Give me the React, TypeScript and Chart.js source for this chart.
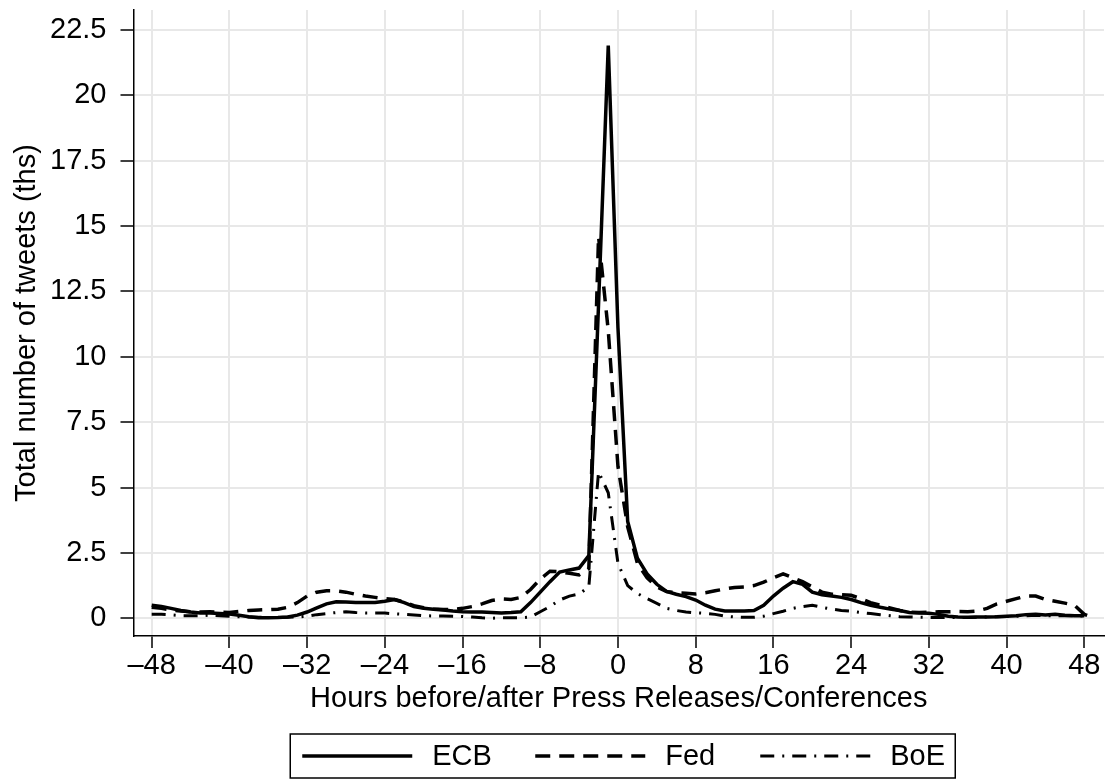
import React, { useEffect, useRef } from 'react';
import { Chart, registerables } from 'chart.js';

Chart.register(...registerables);

// Hours relative to the press release / conference
const HOURS = [
  -48, -47, -46, -45, -44, -43, -42, -41, -40, -39, -38, -37, -36, -35, -34, -33,
  -32, -31, -30, -29, -28, -27, -26, -25, -24, -23, -22, -21, -20, -19, -18, -17,
  -16, -15, -14, -13, -12, -11, -10, -9, -8, -7, -6, -5, -4, -3, -2, -1,
  0, 1, 2, 3, 4, 5, 6, 7, 8, 9, 10, 11, 12, 13, 14, 15,
  16, 17, 18, 19, 20, 21, 22, 23, 24, 25, 26, 27, 28, 29, 30, 31,
  32, 33, 34, 35, 36, 37, 38, 39, 40, 41, 42, 43, 44, 45, 46, 47,
  48, 49,
];

// Total number of tweets (thousands)
const ECB = [
  0.5, 0.45, 0.38, 0.3, 0.24, 0.2, 0.2, 0.18, 0.16, 0.12, 0.06, 0.02, 0.02, 0.03, 0.05, 0.12,
  0.24, 0.4, 0.55, 0.63, 0.62, 0.6, 0.6, 0.6, 0.65, 0.72, 0.6, 0.45, 0.38, 0.35, 0.32, 0.28,
  0.25, 0.24, 0.24, 0.22, 0.2, 0.22, 0.25, 0.6, 1.0, 1.4, 1.77, 1.85, 1.92, 2.4, 12.0, 21.9,
  11.1, 3.7, 2.3, 1.7, 1.3, 1.03, 0.92, 0.83, 0.7, 0.5, 0.35, 0.28, 0.28, 0.28, 0.3, 0.5,
  0.85, 1.15, 1.4, 1.3, 1.0, 0.9, 0.85, 0.8, 0.72, 0.6, 0.5, 0.42, 0.35, 0.3, 0.22, 0.2,
  0.19, 0.15, 0.08, 0.05, 0.04, 0.05, 0.05, 0.06, 0.08, 0.1, 0.14, 0.15, 0.13, 0.15, 0.12, 0.1,
  0.1, null,
];

const FED = [
  0.42, 0.38, 0.32, 0.28, 0.25, 0.24, 0.25, 0.24, 0.22, 0.26, 0.3, 0.32, 0.33, 0.35, 0.42, 0.6,
  0.85, 1.0, 1.05, 1.05, 1.0, 0.92, 0.85, 0.8, 0.75, 0.72, 0.62, 0.48, 0.4, 0.36, 0.34, 0.33,
  0.38, 0.45, 0.55, 0.68, 0.74, 0.72, 0.8, 1.1, 1.5, 1.8, 1.78, 1.72, 1.66, 1.9, 14.6, 11.0,
  5.8, 3.5, 2.1, 1.55, 1.2, 1.02, 0.98, 0.96, 0.93, 0.98, 1.05, 1.12, 1.18, 1.2, 1.25, 1.38,
  1.55, 1.7, 1.55, 1.4, 1.2, 1.0, 0.92, 0.9, 0.88, 0.75, 0.6, 0.5, 0.4, 0.3, 0.24, 0.22,
  0.23, 0.25, 0.25, 0.26, 0.25, 0.28, 0.38, 0.55, 0.65, 0.75, 0.85, 0.85, 0.72, 0.65, 0.58, 0.5,
  0.15, 0.02,
];

const BOE = [
  0.15, 0.15, 0.13, 0.1, 0.1, 0.1, 0.12, 0.1, 0.08, 0.06, 0.05, 0.04, 0.03, 0.03, 0.04, 0.05,
  0.08, 0.14, 0.18, 0.22, 0.25, 0.22, 0.2, 0.2, 0.2, 0.17, 0.15, 0.13, 0.1, 0.09, 0.09, 0.08,
  0.07, 0.05, 0.02, 0.0, 0.02, 0.02, 0.02, 0.05, 0.25, 0.45, 0.7, 0.85, 0.93, 1.2, 5.6, 4.8,
  2.1, 1.25, 0.95, 0.75, 0.57, 0.38, 0.3, 0.24, 0.21, 0.19, 0.15, 0.08, 0.05, 0.04, 0.04, 0.08,
  0.18, 0.27, 0.38, 0.45, 0.5, 0.42, 0.35, 0.3, 0.27, 0.22, 0.18, 0.14, 0.1, 0.06, 0.05, 0.04,
  0.03, 0.03, 0.03, 0.03, 0.03, 0.04, 0.05, 0.06, 0.07, 0.08, 0.1, 0.12, 0.1, 0.1, 0.1, 0.1,
  0.08, null,
];

const SERIES_LABELS = ['ECB', 'Fed', 'BoE'];
const X_TICKS = [-48, -40, -32, -24, -16, -8, 0, 8, 16, 24, 32, 40, 48];
const Y_TICKS = [0, 2.5, 5, 7.5, 10, 12.5, 15, 17.5, 20, 22.5];

const X_TITLE = 'Hours before/after Press Releases/Conferences';
const Y_TITLE = 'Total number of tweets (ths)';

const FONT_FAMILY = '"Liberation Sans", Arial, Helvetica, sans-serif';
const FONT_SIZE = 29;

function fmtNum(v: number): string {
  const s = String(Math.abs(v));
  return v < 0 ? '\u2013' + s : s;
}

const boxLegend = {
  id: 'boxLegend',
  afterDraw(chart: any) {
    const ctx = chart.ctx as CanvasRenderingContext2D;
    const ca = chart.chartArea;
    const cx = (ca.left + ca.right) / 2 + 4;
    const W = 665;
    const H = 44;
    const left = cx - W / 2;
    const top = 734;
    const starts = [12, 245, 470];
    ctx.save();
    ctx.setLineDash([]);
    ctx.lineWidth = 1.5;
    ctx.strokeStyle = '#000';
    ctx.strokeRect(left, top, W, H);
    const cy = top + H / 2;
    chart.data.datasets.forEach((ds: any, i: number) => {
      const x0 = left + starts[i];
      ctx.setLineDash(ds.borderDash || []);
      ctx.lineWidth = ds.borderWidth;
      ctx.strokeStyle = ds.borderColor;
      ctx.beginPath();
      ctx.moveTo(x0, cy);
      ctx.lineTo(x0 + 110, cy);
      ctx.stroke();
      ctx.setLineDash([]);
      ctx.fillStyle = '#000';
      ctx.font = `${FONT_SIZE}px ${FONT_FAMILY}`;
      ctx.textBaseline = 'middle';
      ctx.textAlign = 'left';
      ctx.fillText(ds.label, x0 + 130, cy + 1);
    });
    ctx.restore();
  },
};

export default function App() {
  const ref = useRef<HTMLCanvasElement>(null);

  useEffect(() => {
    document.body.style.margin = '0';
    document.body.style.overflow = 'hidden';
    const canvas = ref.current;
    if (!canvas) return;

    const mk = (vals: (number | null)[]) => HOURS.map((h, i) => ({ x: h, y: vals[i] }));

    const chart = new Chart(canvas, {
      type: 'line',
      data: {
        datasets: [
          {
            label: SERIES_LABELS[0],
            data: mk(ECB) as any,
            borderColor: '#000',
            borderWidth: 3.5,
            borderDash: [],
            pointRadius: 0,
            tension: 0,
            fill: false,
          },
          {
            label: SERIES_LABELS[1],
            data: mk(FED) as any,
            borderColor: '#000',
            borderWidth: 3.5,
            borderDash: [15, 9],
            pointRadius: 0,
            tension: 0,
            fill: false,
          },
          {
            label: SERIES_LABELS[2],
            data: mk(BOE) as any,
            borderColor: '#000',
            borderWidth: 3,
            borderDash: [14, 8, 2, 8],
            pointRadius: 0,
            tension: 0,
            fill: false,
          },
        ],
      },
      options: {
        animation: false,
        responsive: false,
        devicePixelRatio: 1,
        layout: { padding: { left: 0, top: 10, right: 4, bottom: 0 } },
        font: { family: FONT_FAMILY, size: FONT_SIZE },
        plugins: {
          legend: { display: false },
          tooltip: { enabled: false },
        },
        scales: {
          x: {
            type: 'linear',
            min: -49.87,
            max: 50.03,
            afterFit: (scale: any) => {
              scale.height = 147;
              scale.paddingLeft = 0;
              scale.paddingRight = 0;
            },
            afterBuildTicks: (scale: any) => {
              scale.ticks = X_TICKS.map((v) => ({ value: v }));
            },
            ticks: {
              autoSkip: false,
              maxRotation: 0,
              padding: 1,
              color: '#000',
              font: { family: FONT_FAMILY, size: FONT_SIZE },
              callback: (v: any) => fmtNum(Number(v)),
            },
            grid: {
              color: '#e8e8e8',
              lineWidth: 2,
              tickColor: '#000',
              tickLength: 12,
              tickWidth: 1.5,
            },
            border: { display: true, color: '#000', width: 1.5 },
            title: {
              display: true,
              text: X_TITLE,
              color: '#000',
              font: { family: FONT_FAMILY, size: FONT_SIZE },
              padding: { top: 0, bottom: 67 },
            },
          },
          y: {
            type: 'linear',
            min: -0.677,
            max: 23.26,
            afterFit: (scale: any) => {
              scale.width = 133.5;
              scale.paddingTop = 0;
              scale.paddingBottom = 0;
            },
            afterBuildTicks: (scale: any) => {
              scale.ticks = Y_TICKS.map((v) => ({ value: v }));
            },
            ticks: {
              autoSkip: false,
              padding: 14,
              color: '#000',
              font: { family: FONT_FAMILY, size: FONT_SIZE },
              callback: (v: any) => fmtNum(Number(v)),
            },
            grid: {
              color: '#e8e8e8',
              lineWidth: 2,
              tickColor: '#000',
              tickLength: 13,
              tickWidth: 1.5,
            },
            border: { display: true, color: '#000', width: 1.5 },
            title: {
              display: true,
              text: Y_TITLE,
              color: '#000',
              font: { family: FONT_FAMILY, size: FONT_SIZE },
              padding: { top: 10, bottom: 0 },
            },
          },
        },
      },
      plugins: [boxLegend],
    });

    return () => chart.destroy();
  }, []);

  return (
    <div style={{ width: 1108, height: 783, background: '#fff' }}>
      <canvas ref={ref} width={1108} height={783} style={{ display: 'block' }} />
    </div>
  );
}
